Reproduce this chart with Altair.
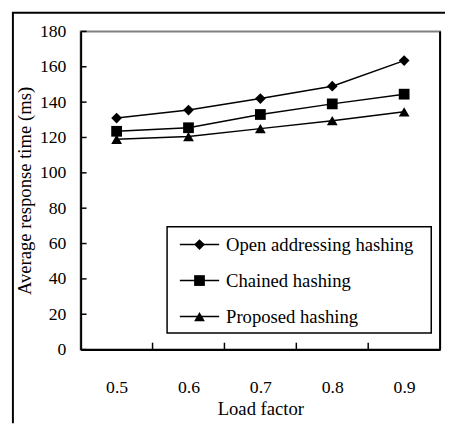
import altair as alt
import pandas as pd

# ---- data ----
load_factor = [0.5, 0.6, 0.7, 0.8, 0.9]
open_addressing = [131.0, 135.5, 142.0, 149.0, 163.5]
chained = [123.5, 125.5, 133.0, 139.0, 144.5]
proposed = [119.0, 120.5, 125.0, 129.5, 134.5]
series_names = ["Open addressing hashing", "Chained hashing", "Proposed hashing"]
series_shapes = ["diamond", "square", "triangle-up"]
y_tick_values = [0, 20, 40, 60, 80, 100, 120, 140, 160, 180]
x_tick_bounds = [0.55, 0.65, 0.75, 0.85]

rows = []
for name, vals in zip(series_names, [open_addressing, chained, proposed]):
    for lf, v in zip(load_factor, vals):
        rows.append({"lf": lf, "value": v, "series": name})
df = pd.DataFrame(rows)

W, H = 366, 324
FONT = "Liberation Serif"

xscale = alt.Scale(domain=[0.45, 0.95], nice=False, zero=False)
yscale = alt.Scale(domain=[0, 180], nice=False, zero=True)

x_axis = alt.Axis(values=load_factor, format=".1f", ticks=False, grid=False,
                  labelPadding=30, labelFont=FONT, labelFontSize=18, labelColor="black",
                  title="Load factor", titlePadding=3)
y_axis = alt.Axis(values=y_tick_values, ticks=False, grid=False,
                  labelPadding=15, labelFont=FONT, labelFontSize=18, labelColor="black",
                  title="Average response time (ms)", titlePadding=5)

X = alt.X("lf:Q", scale=xscale, axis=x_axis)
Y = alt.Y("value:Q", scale=yscale, axis=y_axis)

base = alt.Chart(df)

lines = base.mark_line(color="black", strokeWidth=1.5).encode(
    x=X, y=Y, detail="series:N",
)

points = base.mark_point(filled=True, color="black", opacity=1, size=120).encode(
    x=X, y=Y,
    shape=alt.Shape("series:N",
                    scale=alt.Scale(domain=series_names, range=series_shapes),
                    legend=None),
)

tick_df = pd.DataFrame({"value": y_tick_values})
y_ticks = alt.Chart(tick_df).mark_rule(color="black", strokeWidth=1.5).encode(
    y=Y, x=alt.value(0), x2=alt.value(6),
)
xb_df = pd.DataFrame({"lf": x_tick_bounds})
x_ticks = alt.Chart(xb_df).mark_rule(color="black", strokeWidth=1.5).encode(
    x=X, y=alt.value(H), y2=alt.value(H - 7),
)

frame_df = pd.DataFrame({"k": [0]})
right_edge = alt.Chart(frame_df).mark_rule(color="black", strokeWidth=2).encode(
    x=alt.value(W), y=alt.value(0), y2=alt.value(H),
)
outer_left = alt.Chart(frame_df).mark_rule(color="black", strokeWidth=2).encode(
    x=alt.value(-69), y=alt.value(-19), y2=alt.value(H + 75),
)
outer_top = alt.Chart(frame_df).mark_rule(color="black", strokeWidth=2).encode(
    x=alt.value(-70), x2=alt.value(W + 5), y=alt.value(-19),
)

# ---- legend box (inside the plot, lower right) ----
LX0, LX1, LY0, LY1 = 88, 357, 199, 307
legend_box = alt.Chart(frame_df).mark_rect(
    fill="white", stroke="black", strokeWidth=1.5
).encode(
    x=alt.value(LX0), x2=alt.value(LX1), y=alt.value(LY0), y2=alt.value(LY1),
)

legend_layers = []
for i, (name, shp) in enumerate(zip(series_names, series_shapes)):
    ry = 217 + i * 36.7
    ldf = pd.DataFrame({"series": [name]})
    lc = alt.Chart(ldf)
    legend_layers.append(lc.mark_rule(color="black", strokeWidth=1.5).encode(
        x=alt.value(101), x2=alt.value(141), y=alt.value(ry)))
    legend_layers.append(lc.mark_point(filled=True, color="black", opacity=1,
                                       size=120, shape=shp).encode(
        x=alt.value(121), y=alt.value(ry)))
    legend_layers.append(lc.mark_text(align="left", baseline="middle", font=FONT,
                                      fontSize=19, color="black", dy=1).encode(
        x=alt.value(148), y=alt.value(ry), text="series:N"))

chart = alt.layer(
    lines, points, y_ticks, x_ticks, right_edge, outer_left, outer_top,
    legend_box, *legend_layers
).properties(
    width=W, height=H,
    background="white",
    autosize=alt.AutoSizeParams(type="none"),
    padding={"left": 74, "top": 20, "right": 5, "bottom": 76},
).configure_view(
    stroke="#808080", strokeWidth=2
).configure_axis(
    labelFont=FONT, labelFontSize=18, labelColor="black", labelFontWeight="normal",
    titleFont=FONT, titleFontSize=19, titleFontWeight="normal", titleColor="black",
    domainColor="black", domainWidth=2,
)

chart.save("out.html", embed_options={"renderer": "svg", "actions": False})
